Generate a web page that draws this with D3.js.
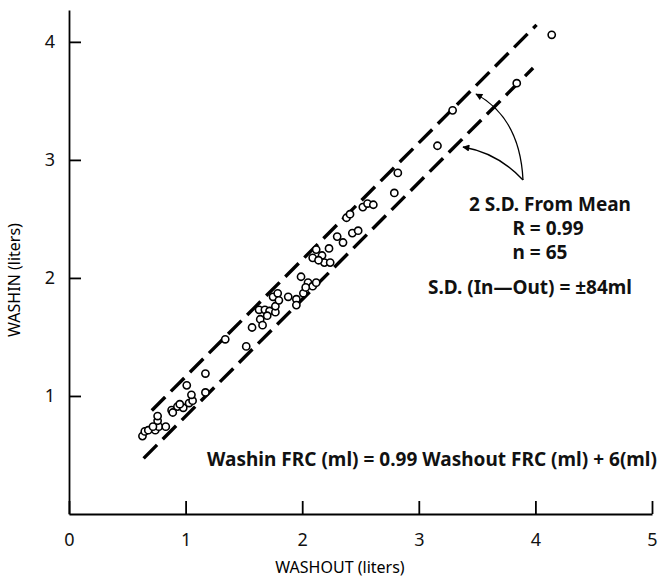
<!DOCTYPE html>
<html>
<head>
<meta charset="utf-8">
<script src="https://cdn.jsdelivr.net/npm/d3@7"></script>
<style>
  html, body { margin: 0; padding: 0; background: #fff; }
  svg { display: block; font-family: "Noto Sans", "DejaVu Sans", sans-serif; }
</style>
</head>
<body>
<svg id="chart" width="662" height="584"></svg>
<script>
// Washout FRC (x, liters) vs washin FRC (y, liters)
const washout = [
  0.63, 0.65, 0.68, 0.74, 0.77, 0.76, 0.76, 0.83, 0.88, 0.93,
  0.98, 0.95, 1.03, 1.06, 1.05, 1.01, 1.17, 1.17, 1.34, 1.52,
  1.57, 1.64, 1.66, 1.63, 1.68, 1.72, 1.77, 1.77, 1.75, 1.79,
  1.80, 1.88, 1.95, 1.95, 1.99, 2.01, 2.05, 2.09, 2.12, 2.09,
  2.12, 2.17, 2.19, 2.24, 2.23, 2.30, 2.35, 2.38, 2.41, 2.43,
  2.48, 2.52, 2.56, 2.61, 2.79, 2.82, 3.16, 3.29, 3.84, 4.14,
  2.14, 1.70, 0.89, 2.03, 0.72
];
const washin = [
  0.66, 0.70, 0.71, 0.71, 0.74, 0.79, 0.83, 0.74, 0.88, 0.91,
  0.90, 0.93, 0.94, 0.96, 1.01, 1.09, 1.19, 1.03, 1.48, 1.42,
  1.58, 1.65, 1.60, 1.73, 1.73, 1.72, 1.71, 1.76, 1.84, 1.87,
  1.81, 1.84, 1.82, 1.77, 2.01, 1.87, 1.96, 1.93, 1.96, 2.17,
  2.24, 2.19, 2.13, 2.13, 2.25, 2.35, 2.30, 2.51, 2.54, 2.38,
  2.40, 2.60, 2.63, 2.62, 2.72, 2.89, 3.12, 3.42, 3.65, 4.06,
  2.15, 1.68, 0.86, 1.92, 0.74
];

// regression and +-2 S.D. band (S.D. = 84 ml)
const slope = 0.99;
const intercept = 0.006;
const bandOffset = 0.168;
const upperRange = [0.71, 4.01];
const lowerRange = [0.64, 3.98];

const xTicks = [0, 1, 2, 3, 4, 5];
const yTicks = [1, 2, 3, 4];

const svg = d3.select('#chart');

const x = d3.scaleLinear().domain([0, 5]).range([69, 652]);
const y = d3.scaleLinear().domain([0, 4.27]).range([514, 10]);

// x axis, ticks point up into the plot
const xAxis = svg.append('g')
  .attr('transform', `translate(0,${y(0)})`)
  .call(d3.axisBottom(x).tickValues(xTicks).tickFormat(d3.format('d'))
    .tickSizeInner(-13).tickSizeOuter(0).tickPadding(19));

// y axis, ticks point right
const yAxis = svg.append('g')
  .attr('transform', `translate(${x(0)},0)`)
  .call(d3.axisLeft(y).tickValues(yTicks).tickFormat(d3.format('d'))
    .tickSizeInner(-12).tickSizeOuter(0).tickPadding(14));

[xAxis, yAxis].forEach(a => {
  a.selectAll('path, line').attr('stroke', '#000').attr('stroke-width', 1.8);
  a.selectAll('text').attr('font-size', 18).attr('fill', '#111')
    .attr('font-family', '"Noto Sans", sans-serif');
});

// axis titles
svg.append('text')
  .attr('x', 340).attr('y', 573)
  .attr('text-anchor', 'middle')
  .attr('font-size', 16)
  .text('WASHOUT (liters)');

svg.append('text')
  .attr('transform', 'translate(20,280) rotate(-90)')
  .attr('text-anchor', 'middle')
  .attr('font-size', 16)
  .text('WASHIN (liters)');

// dashed 2 S.D. lines
const line = d3.line().x(d => x(d[0])).y(d => y(d[1]));
[[upperRange, bandOffset], [lowerRange, -bandOffset]].forEach(([r, off]) => {
  svg.append('path')
    .datum(r.map(v => [v, slope * v + intercept + off]))
    .attr('d', line)
    .attr('fill', 'none')
    .attr('stroke', '#000')
    .attr('stroke-width', 3.4)
    .attr('stroke-dasharray', '19 8');
});

// points
svg.append('g').selectAll('circle')
  .data(d3.range(washout.length))
  .enter()
  .append('circle')
  .attr('cx', i => x(washout[i]))
  .attr('cy', i => y(washin[i]))
  .attr('r', 3.6)
  .attr('fill', '#fff')
  .attr('stroke', '#000')
  .attr('stroke-width', 1.6);

// curved arrows pointing at the band lines
svg.append('defs').append('marker')
  .attr('id', 'head')
  .attr('viewBox', '0 0 10 10')
  .attr('refX', 9).attr('refY', 5)
  .attr('markerWidth', 10).attr('markerHeight', 7)
  .attr('markerUnits', 'userSpaceOnUse')
  .attr('orient', 'auto')
  .append('path')
  .attr('d', 'M0,0 L10,5 L0,10 Z')
  .attr('fill', '#000');

svg.append('path')
  .attr('d', 'M523,180 Q520,118 476,94')
  .attr('fill', 'none').attr('stroke', '#000').attr('stroke-width', 1.3)
  .attr('marker-end', 'url(#head)');
svg.append('path')
  .attr('d', 'M523,180 Q498,153 463,147')
  .attr('fill', 'none').attr('stroke', '#000').attr('stroke-width', 1.3)
  .attr('marker-end', 'url(#head)');

// annotation text
const note = svg.append('g')
  .attr('font-size', 19)
  .attr('font-weight', 'bold')
  .attr('text-anchor', 'middle')
  .attr('fill', '#111');
note.append('text').attr('x', 550).attr('y', 211).text('2 S.D. From Mean');
note.append('text').attr('x', 548).attr('y', 235).text('R = 0.99');
note.append('text').attr('x', 540).attr('y', 259).text('n = 65');
note.append('text').attr('x', 530).attr('y', 294).text('S.D. (In\u2014Out) = \u00b184ml');

svg.append('text')
  .attr('x', 432).attr('y', 466)
  .attr('text-anchor', 'middle')
  .attr('font-size', 19)
  .attr('font-weight', 'bold')
  .attr('fill', '#111')
  .attr('textLength', 450)
  .text('Washin FRC (ml) = 0.99 Washout FRC (ml) + 6(ml)');
</script>
</body>
</html>
